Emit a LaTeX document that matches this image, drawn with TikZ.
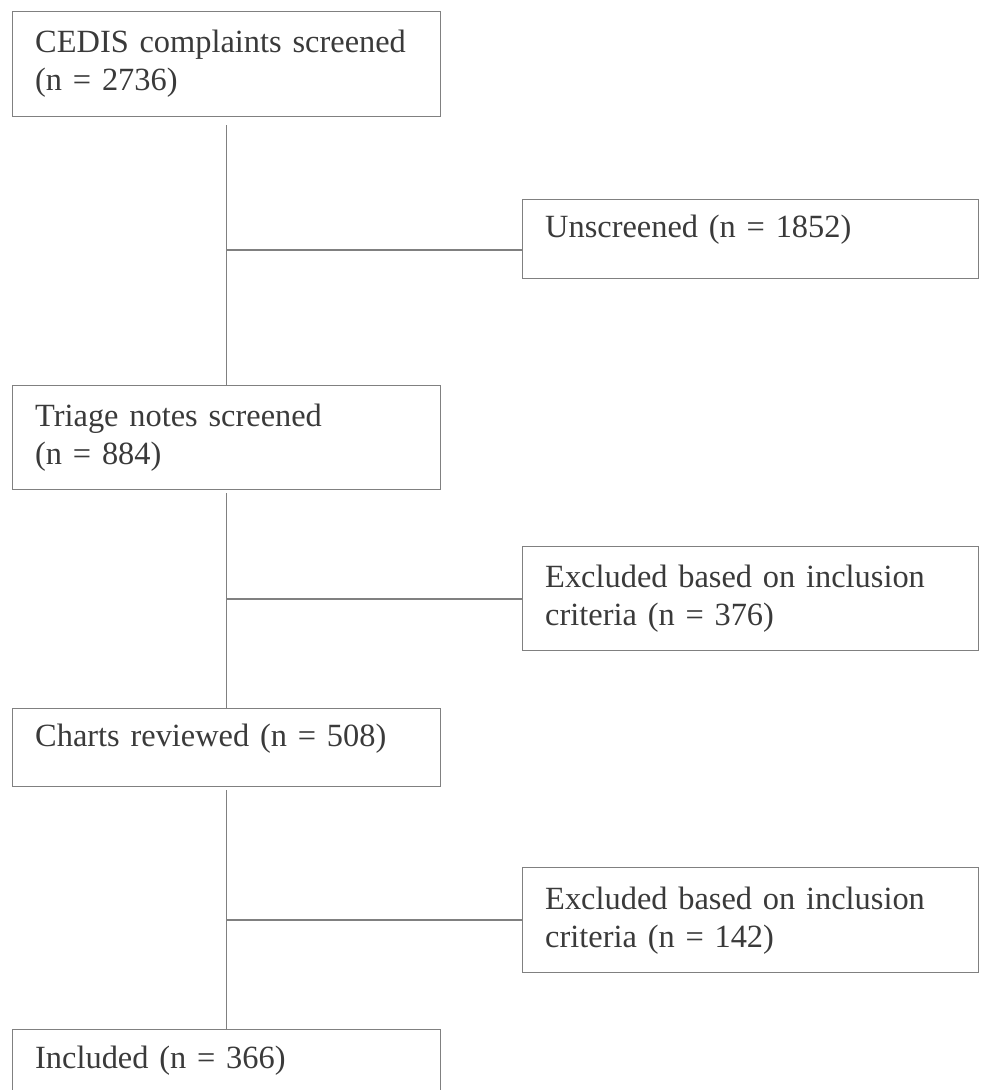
\documentclass[tikz,border=0pt]{standalone}
\usepackage{fontspec}
\setmainfont{Liberation Serif}
\definecolor{boxgray}{HTML}{808080}
\definecolor{txtgray}{HTML}{3A3A3A}

\begin{document}
\begin{tikzpicture}[x=0.5pt,y=-0.5pt,
  stagebox/.style={draw=boxgray, line width=0.7pt, anchor=north west, align=left,
    inner xsep=11.25pt, inner ysep=0pt, text=txtgray,
    font=\fontsize{16.2pt}{19pt}\selectfont},
  leftbox/.style={stagebox, text width=191.5pt, minimum height=#1},
  rightbox/.style={stagebox, text width=205.5pt, minimum height=#1},
  oneline/.style={text depth=12.5pt},
  link/.style={draw=boxgray, line width=0.7pt}]

\clip (0,0) rectangle (980,1090);

\node[leftbox=52.5pt] (cedis) at (12,11) {CEDIS complaints screened\\(n = 2736)};
\node[rightbox=39.5pt, oneline] (unscr) at (522,199) {Unscreened (n = 1852)};
\node[leftbox=52pt] (triage) at (12,385) {Triage notes screened\\(n = 884)};
\node[rightbox=52pt] (excla) at (522,546) {Excluded based on inclusion\\criteria (n = 376)};
\node[leftbox=39pt, oneline] (charts) at (12,708) {Charts reviewed (n = 508)};
\node[rightbox=52.5pt] (exclb) at (522,867) {Excluded based on inclusion\\criteria (n = 142)};
\node[leftbox=40pt, oneline] (incl) at (12,1029) {Included (n = 366)};

\coordinate (ba) at (226,250);
\coordinate (bb) at (226,599);
\coordinate (bc) at (226,920);

\draw[link, shorten <=4pt] (cedis.south) -- (triage.north);
\draw[link, shorten <=1.5pt] (triage.south) -- (charts.north);
\draw[link, shorten <=1.5pt] (charts.south) -- (incl.north);

\draw[link] (ba) -- (ba -| unscr.west);
\draw[link] (bb) -- (bb -| excla.west);
\draw[link] (bc) -- (bc -| exclb.west);
\end{tikzpicture}
\end{document}
